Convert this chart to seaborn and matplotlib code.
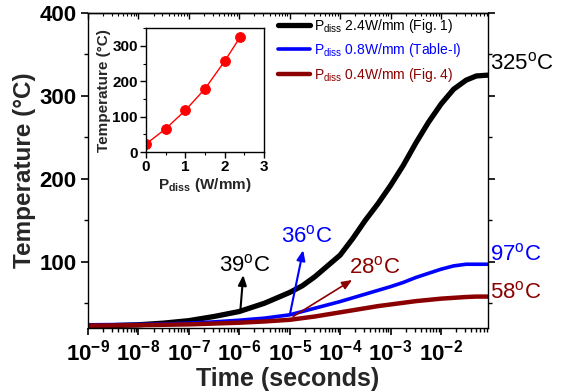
import matplotlib
matplotlib.use("Agg")
import matplotlib.pyplot as plt
import matplotlib.ticker as mticker
import matplotlib.transforms as mtransforms
import numpy as np
import pandas as pd
import seaborn as sns

# log10 of time (seconds) shared by the three transient curves
log_time = [-9, -8, -7.5, -7, -6.5, -6, -5.5, -5, -4.75, -4.5, -4.25, -4,
            -3.75, -3.5, -3.25, -3, -2.75, -2.5, -2.25, -2, -1.75, -1.5, -1.3, -1.07]
temp_24 = [22, 24, 26, 29, 34, 40, 50, 63, 71, 82, 95, 108,
           128, 150, 170, 192, 216, 243, 268, 290, 308, 319, 324, 325]
temp_08 = [24, 24.5, 25, 26, 27.5, 29.5, 32, 36, 40, 44, 48, 52,
           56.5, 61, 65.5, 70, 75, 81, 86, 91, 95, 97, 97, 97]
temp_04 = [23, 23.5, 24, 24.5, 25.5, 26.5, 28, 30, 32, 34, 36.5, 39,
           41.5, 44, 46.5, 48.5, 50.5, 52.5, 54, 55.5, 56.5, 57.5, 58, 58]

labels = [r"P$_\mathregular{diss}$ 2.4W/mm (Fig. 1)",
          r"P$_\mathregular{diss}$ 0.8W/mm (Table-I)",
          r"P$_\mathregular{diss}$ 0.4W/mm (Fig. 4)"]
colors = ["black", "#0000ff", "#8b0000"]
widths = [3.8, 2.6, 3.2]

# inset: peak temperature vs dissipated power
p_diss = [0, 0.5, 1.0, 1.5, 2.0, 2.4]
t_peak = [23, 66, 118, 179, 257, 326]

sns.set_style("ticks")
plt.rcParams["font.family"] = ["Liberation Sans", "DejaVu Sans"]
plt.rcParams["mathtext.fontset"] = "custom"
plt.rcParams["mathtext.rm"] = "Liberation Sans"
plt.rcParams["mathtext.bf"] = "Liberation Sans:bold"
plt.rcParams["axes.linewidth"] = 1.0
plt.rcParams["axes.edgecolor"] = "black"
plt.rcParams["xtick.color"] = "black"
plt.rcParams["ytick.color"] = "black"

time_s = [10.0 ** v for v in log_time]
df = pd.DataFrame({
    "time": time_s * 3,
    "temp": temp_24 + temp_08 + temp_04,
    "series": [labels[0]] * len(time_s) + [labels[1]] * len(time_s) + [labels[2]] * len(time_s),
})

fig = plt.figure(figsize=(5.64, 3.92), dpi=100)
ax = fig.add_axes([0.156, 0.163, 0.709, 0.804])

for lab, c, w in zip(labels, colors, widths):
    sns.lineplot(data=df[df.series == lab], x="time", y="temp", ax=ax,
                 color=c, lw=w, label=lab, sort=False, estimator=None)

ax.set_xscale("log")
ax.set_xlim(1e-9, 8.5e-2)
ax.set_ylim(20, 400)
ax.xaxis.set_major_locator(mticker.LogLocator(base=10, numticks=20))
ax.xaxis.set_minor_locator(mticker.LogLocator(base=10, subs=np.arange(2, 10), numticks=20))
ax.xaxis.set_major_formatter(mticker.FuncFormatter(
    lambda v, p: r"$\mathbf{10^{%d}}$" % int(round(np.log10(v)))))
ax.xaxis.set_minor_formatter(mticker.NullFormatter())
ax.yaxis.set_major_locator(mticker.MultipleLocator(100))
ax.yaxis.set_minor_locator(mticker.MultipleLocator(50))

ax.tick_params(axis="both", which="both", direction="out", color="black",
               bottom=True, left=True, right=True, top=False)
ax.tick_params(which="major", length=5, width=1.2)
ax.tick_params(which="minor", length=3, width=1.0)
ax.tick_params(axis="x", which="major", labelsize=16, pad=3)
ax.tick_params(axis="y", which="major", labelsize=16, pad=3)
for t in ax.get_yticklabels():
    t.set_fontweight("bold")

# top axis: inward ticks, no labels
top = ax.secondary_xaxis("top")
top.xaxis.set_major_locator(mticker.LogLocator(base=10, numticks=20))
top.xaxis.set_minor_locator(mticker.LogLocator(base=10, subs=np.arange(2, 10), numticks=20))
top.tick_params(which="both", direction="in", color="black", labeltop=False)
top.tick_params(which="major", length=4, width=1.0)
top.tick_params(which="minor", length=2.5, width=0.8)
top.xaxis.set_major_formatter(mticker.NullFormatter())
top.xaxis.set_minor_formatter(mticker.NullFormatter())

ax.set_xlabel("Time (seconds)", fontsize=18, fontweight="bold", labelpad=1)
ax.set_ylabel("Temperature (\u00b0C)", fontsize=17.5, fontweight="bold", labelpad=3)

leg = ax.legend(loc="upper left", bbox_to_anchor=(278 / 564, 1 - 17 / 392),
                bbox_transform=fig.transFigure, frameon=False, fontsize=10,
                handlelength=2.3, handletextpad=0.3, labelspacing=0.45,
                borderpad=0, borderaxespad=0)
for txt, c in zip(leg.get_texts(), colors):
    txt.set_color(c)

trans = mtransforms.blended_transform_factory(ax.transAxes, ax.transData)
end_labels = [("325", 339, colors[0]), ("97", 109, colors[1]), ("58", 63, colors[2])]
for val, ypos, c in end_labels:
    ax.text(1.005, ypos, val + r"$^\mathregular{o}$C", transform=trans, color=c,
            fontsize=16, va="center", ha="left")

notes = [("39", colors[0], (1.05e-6, 41), (1.2e-6, 84), (1.3e-6, 96), 1.5),
         ("36", colors[1], (1.02e-5, 38), (1.85e-5, 114), (2.2e-5, 131), 1.5),
         ("28", colors[2], (1.17e-5, 34), (1.73e-4, 78), (4.9e-4, 93), 1.2)]
for val, c, tail, head, tpos, lw in notes:
    ax.annotate("", xy=head, xytext=tail,
                arrowprops=dict(arrowstyle="-|>,head_length=0.6,head_width=0.25",
                                color=c, lw=lw, shrinkA=0, shrinkB=0))
    ax.text(tpos[0], tpos[1], val + r"$^\mathregular{o}$C", color=c, fontsize=16,
            ha="center", va="center")

# inset
ins = fig.add_axes([0.259, 0.612, 0.209, 0.316])
sns.lineplot(x=p_diss, y=t_peak, ax=ins, color="red", lw=1.0, marker="o",
             markersize=7, markeredgecolor="red")
ins.set_xlim(0, 3)
ins.set_ylim(0, 350)
ins.xaxis.set_major_locator(mticker.MultipleLocator(1))
ins.xaxis.set_minor_locator(mticker.MultipleLocator(0.5))
ins.yaxis.set_major_locator(mticker.MultipleLocator(100))
ins.yaxis.set_minor_locator(mticker.MultipleLocator(50))
ins.tick_params(which="both", direction="out", color="black",
                bottom=True, left=True, labelsize=11, pad=2)
ins.tick_params(which="major", length=4, width=1.0)
ins.tick_params(which="minor", length=2.5, width=0.8)
for t in ins.get_xticklabels() + ins.get_yticklabels():
    t.set_fontweight("bold")
ins.set_xlabel(r"P$_\mathbf{diss}$ (W/mm)", fontsize=11, fontweight="bold", labelpad=1)
ins.set_ylabel("Temperature (\u00b0C)", fontsize=11, fontweight="bold", labelpad=1)

fig.savefig("out.png", dpi=100)
